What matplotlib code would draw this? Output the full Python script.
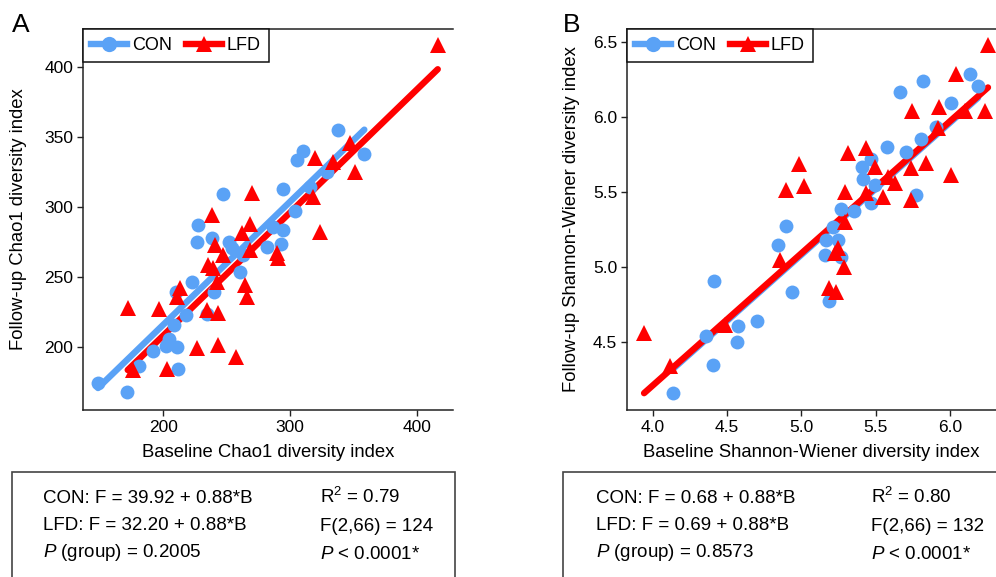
import matplotlib
matplotlib.use("Agg")
import matplotlib.pyplot as plt
import numpy as np
from matplotlib.lines import Line2D
from matplotlib.patches import Rectangle

plt.rcParams['font.family'] = ['Liberation Sans', 'DejaVu Sans']
plt.rcParams['mathtext.fontset'] = 'custom'
plt.rcParams['mathtext.rm'] = 'Liberation Sans'
plt.rcParams['mathtext.it'] = 'Liberation Sans:italic'
plt.rcParams['mathtext.bf'] = 'Liberation Sans:bold'

BLUE = '#5aa2f6'
RED = '#ff0000'

# ---- panel A: Chao1 ----
chao_con_x = [148.6, 171.7, 180.9, 191.7, 202.1, 204.5, 210.6, 211.3, 208.4, 217.9,
              234.2, 239.9, 222.4, 210.0, 226.3, 238.1, 227.3, 247.2, 251.7, 253.9,
              262.8, 260.4, 281.4, 292.9, 286.6, 294.5, 294.5, 303.7, 315.5, 328.7,
              305.0, 310.2, 337.8, 358.3]
chao_con_y = [174.3, 167.9, 186.6, 197.1, 200.7, 205.7, 199.8, 184.3, 215.7, 222.9,
              223.4, 239.5, 246.6, 239.5, 275.2, 277.6, 287.1, 309.3, 275.2, 270.7,
              265.7, 253.8, 271.2, 273.4, 285.9, 283.6, 312.6, 297.4, 314.5, 325.2,
              333.6, 340.0, 355.0, 337.9]
chao_lfd_x = [416.1, 347.0, 319.4, 333.6, 350.9, 269.6, 317.9, 268.3, 323.4, 261.7,
              238.1, 240.7, 247.0, 235.2, 239.1, 213.1, 210.6, 264.3, 265.7, 242.0,
              234.2, 243.3, 172.0, 196.6, 226.3, 243.3, 257.2, 202.7, 176.4, 268.3,
              290.6, 289.3]
chao_lfd_y = [415.7, 345.7, 335.0, 332.1, 325.0, 310.0, 307.1, 287.9, 282.1, 281.4,
              294.3, 272.9, 265.7, 258.6, 256.4, 242.1, 235.7, 244.3, 235.7, 246.4,
              226.4, 224.3, 227.9, 227.1, 199.3, 201.4, 192.9, 184.3, 183.6, 269.3,
              263.6, 267.1]
chao_fit = {'CON': (39.92, 0.88), 'LFD': (32.20, 0.88)}

# ---- panel B: Shannon-Wiener ----
sw_con_x = [4.135, 4.404, 4.355, 4.409, 4.572, 4.566, 4.703, 4.939, 4.842, 4.894,
            5.212, 5.163, 5.246, 5.156, 5.269, 5.185, 6.133, 6.189, 5.818, 5.666,
            6.009, 5.908, 5.803, 5.706, 5.576, 5.471, 5.410, 5.414, 5.493, 5.774,
            5.471, 5.269, 5.352]
sw_con_y = [4.160, 4.345, 4.538, 4.905, 4.605, 4.500, 4.640, 4.833, 5.145, 5.271,
            5.267, 5.178, 5.178, 5.078, 5.067, 4.771, 6.285, 6.205, 6.238, 6.163,
            6.089, 5.933, 5.849, 5.765, 5.796, 5.716, 5.663, 5.583, 5.545, 5.478,
            5.423, 5.383, 5.373]
sw_lfd_x = [3.940, 4.112, 4.483, 4.853, 5.291, 5.246, 5.224, 5.286, 5.185, 5.235,
            6.256, 6.043, 6.099, 6.238, 5.926, 5.744, 5.919, 5.836, 5.740, 6.005,
            5.740, 5.628, 5.549, 5.582, 5.313, 5.437, 5.291, 5.493, 5.432, 4.983,
            5.015, 4.898]
sw_lfd_y = [4.560, 4.340, 4.611, 5.045, 5.300, 5.123, 5.091, 5.000, 4.856, 4.833,
            6.478, 6.285, 6.040, 6.040, 6.063, 6.040, 5.923, 5.689, 5.656, 5.611,
            5.445, 5.556, 5.467, 5.600, 5.756, 5.789, 5.500, 5.667, 5.489, 5.685,
            5.538, 5.511]
sw_fit = {'CON': (0.68, 0.88), 'LFD': (0.69, 0.88)}

panels = [
    dict(letter='A', con=(chao_con_x, chao_con_y), lfd=(chao_lfd_x, chao_lfd_y), fit=chao_fit,
         xlabel='Baseline Chao1 diversity index', ylabel='Follow-up Chao1 diversity index',
         xticks=[200, 300, 400], yticks=[200, 250, 300, 350, 400], fmt='{:.0f}',
         xlim=(136.8, 428.1), ylim=(155.0, 427.1),
         rect=[83 / 996, 1 - 410 / 577, 370 / 996, 381 / 577],
         stats=['CON: F = 39.92 + 0.88*B', 'LFD: F = 32.20 + 0.88*B', '$P$ (group) = 0.2005'],
         stats2=['R$^2$ = 0.79', 'F(2,66) = 124', '$P$ < 0.0001*'],
         box=(12, 455), col=(43, 320), ylab_x=-0.15),
    dict(letter='B', con=(sw_con_x, sw_con_y), lfd=(sw_lfd_x, sw_lfd_y), fit=sw_fit,
         xlabel='Baseline Shannon-Wiener diversity index',
         ylabel='Follow-up Shannon-Wiener diversity index',
         xticks=[4.0, 4.5, 5.0, 5.5, 6.0], yticks=[4.5, 5.0, 5.5, 6.0, 6.5], fmt='{:.1f}',
         xlim=(3.825, 6.310), ylim=(4.045, 6.585),
         rect=[627 / 996, 1 - 410 / 577, 369 / 996, 381 / 577],
         stats=['CON: F = 0.68 + 0.88*B', 'LFD: F = 0.69 + 0.88*B', '$P$ (group) = 0.8573'],
         stats2=['R$^2$ = 0.80', 'F(2,66) = 132', '$P$ < 0.0001*'],
         box=(563, 1010), col=(596, 871), ylab_x=-0.127),
]

fig = plt.figure(figsize=(9.96, 5.77), dpi=100)
W, H = 996, 577

for p in panels:
    ax = fig.add_axes(p['rect'])
    cx, cy = np.array(p['con'][0]), np.array(p['con'][1])
    lx, ly = np.array(p['lfd'][0]), np.array(p['lfd'][1])

    # regression lines from group min to max
    for gx, key, col in [(cx, 'CON', BLUE), (lx, 'LFD', RED)]:
        a, b = p['fit'][key]
        xs = np.array([gx.min(), gx.max()])
        ax.plot(xs, a + b * xs, color=col, lw=4.6, solid_capstyle='round', zorder=2)

    ax.plot(cx, cy, 'o', color=BLUE, ms=10, mew=0, zorder=3)
    ax.plot(lx, ly, '^', color=RED, ms=11, mew=0, zorder=4)

    ax.set_xlim(*p['xlim'])
    ax.set_ylim(*p['ylim'])
    ax.set_xticks(p['xticks'])
    ax.set_yticks(p['yticks'])
    ax.set_xticklabels([p['fmt'].format(v) for v in p['xticks']])
    ax.set_yticklabels([p['fmt'].format(v) for v in p['yticks']])
    ax.tick_params(direction='out', length=4, width=1, labelsize=12.5, color='#222', pad=3)
    for s in ['left', 'bottom', 'top']:
        ax.spines[s].set_color('#222')
        ax.spines[s].set_linewidth(1.1)
    ax.spines['right'].set_visible(False)

    ax.set_xlabel(p['xlabel'], fontsize=13.3)
    ax.xaxis.set_label_coords(0.5, -0.088)
    ax.set_ylabel(p['ylabel'], fontsize=13.3)
    ax.yaxis.set_label_coords(p['ylab_x'], 0.5)

    handles = [Line2D([], [], color=BLUE, lw=4.6, marker='o', ms=11, mew=0),
               Line2D([], [], color=RED, lw=4.6, marker='^', ms=12, mew=0)]
    leg = ax.legend(handles, ['CON', 'LFD'], loc='upper left', bbox_to_anchor=(0, 1),
                    borderaxespad=0, ncol=2, fontsize=13, handlelength=2.0,
                    handletextpad=0.25, columnspacing=0.8, borderpad=0.45,
                    fancybox=False, framealpha=1, edgecolor='#111')
    leg.get_frame().set_linewidth(1.1)

    # panel letter
    x0 = p['box'][0]
    fig.text(x0 / W, 1 - 32 / H, p['letter'], fontsize=19, va='baseline', ha='left')

    # stats box
    bx0, bx1 = p['box']
    fig.add_artist(Rectangle((bx0 / W, -0.05), (bx1 - bx0) / W, 0.05 + (577 - 472) / H,
                             transform=fig.transFigure, fill=False, edgecolor='#444',
                             lw=1.2))
    for txt, yb in zip(p['stats'], [503, 530, 557]):
        fig.text(p['col'][0] / W, 1 - yb / H, txt, fontsize=13.5, va='baseline')
    for txt, yb in zip(p['stats2'], [503, 531, 559]):
        fig.text(p['col'][1] / W, 1 - yb / H, txt, fontsize=13.5, va='baseline')

fig.savefig('out.png', dpi=100)
